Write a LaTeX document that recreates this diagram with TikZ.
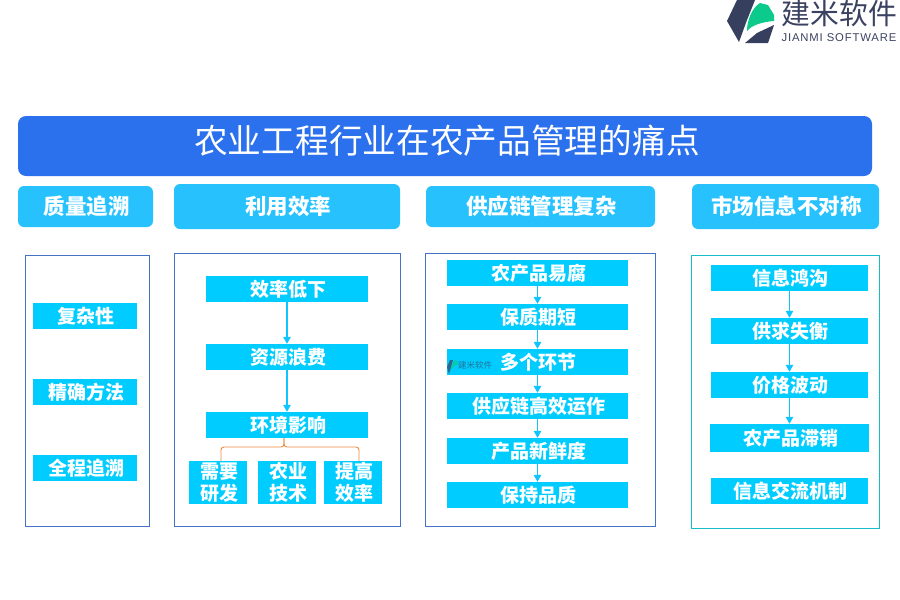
\documentclass[tikz,border=0pt]{standalone}
\usepackage{fontspec}
\setmainfont{Noto Sans CJK SC}
\newfontfamily\latinfont[LetterSpace=7.5]{Liberation Sans}
\usetikzlibrary{arrows.meta}
\definecolor{titleblue}{HTML}{2B70EC}
\definecolor{headblue}{HTML}{27C2FD}
\definecolor{itemblue}{HTML}{00CCFF}
\definecolor{panelline}{HTML}{4472C4}
\definecolor{panelteal}{HTML}{15BCC8}
\definecolor{flowline}{HTML}{0FC4FF}
\definecolor{bracket}{HTML}{ED8A3C}
\definecolor{logonavy}{HTML}{363F5E}
\definecolor{logogreen}{HTML}{0CC98C}
\definecolor{logotext}{HTML}{3A4260}
\tikzset{
  x=1pt,y=-1pt,
  panel/.style={draw=panelline,line width=0.8pt,fill=white},
  item/.style={fill=itemblue,text=white,font=\fontsize{19}{22}\selectfont\bfseries,inner sep=0pt,align=center},
  head/.style={fill=headblue,text=white,rounded corners=6pt,font=\fontsize{21.5}{24}\selectfont\bfseries,inner sep=0pt,align=center},
  flow/.style={draw=flowline,line width=1.3pt,-{Triangle[length=7pt,width=7.5pt]}},
  bracketline/.style={draw=bracket,line width=0.9pt,rounded corners=3pt},
}
\newcommand{\boxat}[7][item]{\node[#1,minimum width=#4-#3,minimum height=#6-#5] (#2) at ({(#3+#4)/2},{(#5+#6)/2}) {\hspace*{2pt}#7};}
\begin{document}
\begin{tikzpicture}
\useasboundingbox (0,0) rectangle (900,600);
% logo
\fill[logonavy] (737,0) -- (755,0) -- (747,20) -- (739,42) -- (727,21) -- cycle;
\fill[logonavy] (745,43) -- (757,33) -- (774,25) -- (768,43) -- cycle;
\fill[logogreen] (747,31) .. controls (747,20) and (752,8) .. (760,3) -- (768,5) -- (774,15) -- (774,21) .. controls (762,22) and (752,25) .. (747,31) -- cycle;
\node[text=logotext,font=\fontsize{28.8}{30}\selectfont,inner sep=0pt] (logozh) at (839.5,14) {建米软件};
\node[text=logotext,font=\fontsize{11.3}{12}\latinfont,inner sep=0pt] (logoen) at (839,38) {JIANMI SOFTWARE};
% title
\node[fill=titleblue,rounded corners=8pt,minimum width=854,minimum height=60,inner sep=0pt] (title) at (445,146) {};
\node[text=white,font=\fontsize{33.7}{36}\selectfont,inner sep=0pt] (titletext) at (447,141) {农业工程行业在农产品管理的痛点};
% headers
\boxat[head]{h1}{18}{153}{186}{227}{质量追溯}
\boxat[head]{h2}{174}{400}{184}{229}{利用效率}
\boxat[head]{h3}{426}{655}{186}{227}{供应链管理复杂}
\boxat[head]{h4}{692}{879}{184}{229}{市场信息不对称}
% panels
\draw[panel] (25.5,255.5) rectangle (149.5,526.5);
\draw[panel] (174.5,253.5) rectangle (400.5,526.5);
\draw[panel] (425.5,253.5) rectangle (655.5,526.5);
\draw[panel,draw=panelteal] (691.5,255.5) rectangle (879.5,528.5);
% column 1
\boxat{a1}{33}{137}{303}{329}{复杂性}
\boxat{a2}{33}{137}{379}{405}{精确方法}
\boxat{a3}{33}{137}{455}{481}{全程追溯}
% column 2
\boxat{b1}{206}{368}{276}{302}{效率低下}
\boxat{b2}{206}{368}{344}{370}{资源浪费}
\boxat{b3}{206}{368}{412}{438}{环境影响}
\boxat{b4}{189}{247}{461}{504}{需要\\\hspace*{2pt}研发}
\boxat{b5}{258}{316}{461}{504}{农业\\\hspace*{2pt}技术}
\boxat{b6}{324}{382}{461}{504}{提高\\\hspace*{2pt}效率}
\draw[flow] (b1) -- (b2);
\draw[flow] (b2) -- (b3);
\coordinate (bj) at (284,438);
\draw[bracketline] (bj) -- ++(0,9) -| (221,461);
\draw[bracketline] (bj) -- ++(0,9) -| (359,461);
% column 3
\boxat{c1}{447}{628}{260}{286}{农产品易腐}
\boxat{c2}{447}{628}{304}{330}{保质期短}
\boxat{c3}{447}{628}{349}{375}{多个环节}
\boxat{c4}{447}{628}{393}{419}{供应链高效运作}
\boxat{c5}{447}{628}{438}{464}{产品新鲜度}
\boxat{c6}{447}{628}{482}{508}{保持品质}
\foreach \p/\q in {c1/c2,c2/c3,c3/c4,c4/c5,c5/c6}{\draw[flow] (\p) -- (\q);}
% watermark
\fill[logonavy!70!itemblue] (450,360) -- (453,360) -- (451,367) -- (449,374) -- (447,367) -- cycle;
\fill[logogreen!70!itemblue] (451,370) .. controls (451,365) and (453,361) .. (456,360) -- (459,364) .. controls (456,365) and (453,366) .. (451,370) -- cycle;
\node[text=logonavy!60!itemblue,font=\fontsize{8.5}{9}\selectfont,inner sep=0pt] (wm) at (475,365) {建米软件};
% column 4
\boxat{d1}{711}{868}{265}{291}{信息鸿沟}
\boxat{d2}{711}{868}{318}{344}{供求失衡}
\boxat{d3}{711}{868}{372}{398}{价格波动}
\boxat{d4}{710}{869}{424}{452}{农产品滞销}
\boxat{d5}{711}{868}{478}{504}{信息交流机制}
\foreach \p/\q in {d1/d2,d2/d3,d3/d4}{\draw[flow] (\p) -- (\q);}
\end{tikzpicture}
\end{document}
